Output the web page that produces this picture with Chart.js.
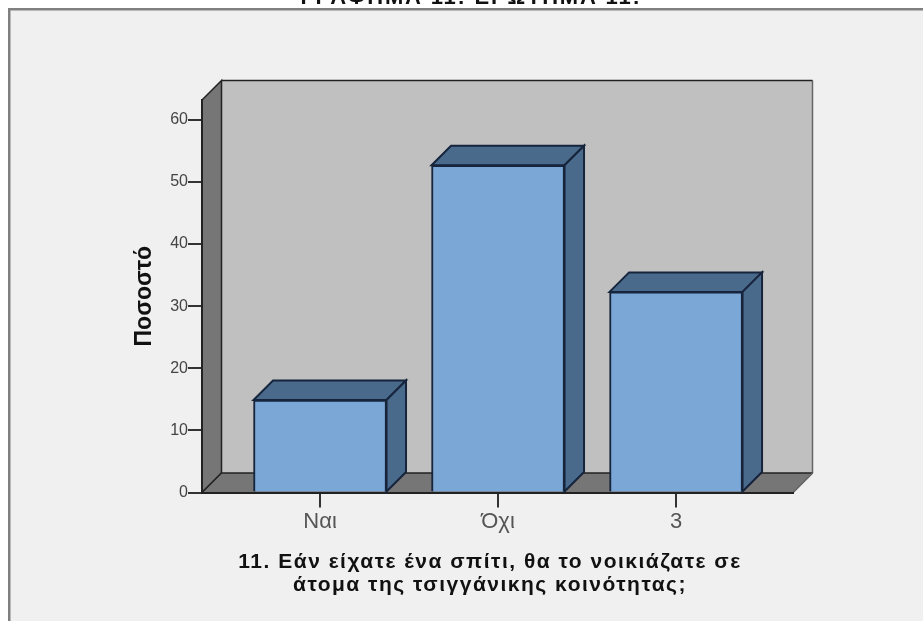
<!DOCTYPE html>
<html><head><meta charset="utf-8">
<style>html,body{margin:0;padding:0;background:#fff}canvas{display:block}</style>
<script src="https://cdn.jsdelivr.net/npm/chart.js@4"></script>
</head><body>
<canvas id="c" width="923" height="621"></canvas>
<script>
const chartTitle = 'ΓΡΑΦΗΜΑ 11: ΕΡΩΤΗΜΑ 11:';
const xTitleLines = ['11. Εάν είχατε ένα σπίτι, θα το νοικιάζατε σε', 'άτομα της τσιγγάνικης κοινότητας;'];
const yTitle = 'Ποσοστό';
const categories = ['Ναι', 'Όχι', '3'];
const percent = [14.9, 52.7, 32.3];
const yMax = 63.2;
const xMin = -0.663, xMax = 2.657;
const depth = 19.5;
const FONT = '"Liberation Sans", Arial, sans-serif';

function poly(ctx, pts, fill, stroke, lw) {
  ctx.beginPath();
  pts.forEach((p, i) => i ? ctx.lineTo(p[0], p[1]) : ctx.moveTo(p[0], p[1]));
  ctx.closePath();
  if (fill) { ctx.fillStyle = fill; ctx.fill(); }
  if (stroke) { ctx.strokeStyle = stroke; ctx.lineWidth = lw || 1.5; ctx.lineJoin = 'miter'; ctx.stroke(); }
}

const scene = {
  id: 'scene',
  beforeDraw(chart) {
    const ctx = chart.ctx, a = chart.chartArea;
    const L = a.left, R = a.right, T = a.top, B = a.bottom, d = depth;
    ctx.save();
    ctx.fillStyle = '#ffffff'; ctx.fillRect(0, 0, 923, 621);
    ctx.fillStyle = '#f0f0f0'; ctx.fillRect(9, 9, 914, 612);
    ctx.fillStyle = '#808080';
    ctx.fillRect(8, 8, 915, 2.5); ctx.fillRect(8, 8, 2.5, 613);
    ctx.fillStyle = '#111'; ctx.font = 'bold 22px ' + FONT; ctx.textAlign = 'center'; ctx.textBaseline = 'alphabetic';
    ctx.letterSpacing = '1.8px';
    ctx.fillText(chartTitle, 471, 4);
    ctx.letterSpacing = '0px';
    poly(ctx, [[L + d, T - d], [R + d, T - d], [R + d, B - d], [L + d, B - d]], '#c0c0c0');
    ctx.strokeStyle = '#666'; ctx.lineWidth = 1.5;
    ctx.beginPath(); ctx.moveTo(R + d, T - d); ctx.lineTo(R + d, B - d); ctx.lineTo(R, B); ctx.stroke();
    ctx.strokeStyle = '#222';
    ctx.beginPath(); ctx.moveTo(L + d, T - d); ctx.lineTo(R + d, T - d); ctx.stroke();
    poly(ctx, [[L, T], [L + d, T - d], [L + d, B - d], [L, B]], '#767676', '#222');
    poly(ctx, [[L, B], [L + d, B - d], [R + d, B - d], [R, B]], '#767676');
    ctx.strokeStyle = '#222';
    ctx.beginPath(); ctx.moveTo(L, B); ctx.lineTo(L + d, B - d); ctx.lineTo(R + d, B - d); ctx.stroke();
    ctx.strokeStyle = '#666';
    ctx.beginPath(); ctx.moveTo(R + d, B - d); ctx.lineTo(R, B); ctx.stroke();
    ctx.fillStyle = '#111'; ctx.font = 'bold 21px ' + FONT; ctx.textAlign = 'center';
    ctx.letterSpacing = '1.5px';
    ctx.fillText(xTitleLines[0], 490, 568);
    ctx.fillText(xTitleLines[1], 490, 591);
    ctx.letterSpacing = '0px';
    ctx.restore();
  },
  beforeDatasetsDraw(chart) {
    const ctx = chart.ctx, d = depth;
    ctx.save();
    chart.getDatasetMeta(0).data.forEach(el => {
      const p = el.getProps(['x', 'y', 'base', 'width'], true);
      const x1 = p.x - p.width / 2, x2 = p.x + p.width / 2;
      poly(ctx, [[x1, p.y], [x1 + d, p.y - d], [x2 + d, p.y - d], [x2, p.y]], '#4a6a8c', '#16243c', 2);
      poly(ctx, [[x2, p.y], [x2 + d, p.y - d], [x2 + d, p.base - d], [x2, p.base]], '#4a6a8c', '#16243c', 2);
    });
    ctx.restore();
  }
};

new Chart(document.getElementById('c'), {
  type: 'bar',
  data: {
    datasets: [{
      label: yTitle,
      data: percent.map((v, i) => ({ x: i, y: v })),
      backgroundColor: '#7ba7d7',
      borderColor: '#16243c',
      borderWidth: 2,
      barThickness: 133
    }]
  },
  plugins: [scene],
  options: {
    responsive: false,
    animation: false,
    events: [],
    layout: { padding: { left: 131, right: 130, top: 100, bottom: 0 } },
    plugins: { legend: { display: false }, title: { display: false }, tooltip: { enabled: false } },
    scales: {
      x: {
        type: 'linear', min: xMin, max: xMax, offset: false,
        afterBuildTicks(axis) { axis.ticks = categories.map((_, i) => ({ value: i })); },
        afterFit(axis) { axis.height = 128.5; },
        grid: { offset: false, drawOnChartArea: false, tickLength: 15, color: '#333', lineWidth: 2 },
        border: { color: '#222', width: 2 },
        ticks: {
          autoSkip: false, maxRotation: 0, minRotation: 0, padding: 1, color: '#555',
          font: { family: FONT, size: 22 },
          callback: v => categories[v]
        }
      },
      y: {
        min: 0, max: yMax,
        afterFit(axis) { axis.width = 71; },
        grid: { drawOnChartArea: false, tickLength: 14, color: '#333', lineWidth: 2 },
        border: { color: '#222', width: 2 },
        title: { display: true, text: yTitle, color: '#111', padding: { top: 0, bottom: 0 }, font: { family: FONT, size: 23, weight: 'bold' } },
        ticks: {
          stepSize: 10, includeBounds: false, padding: 0, color: '#444',
          font: { family: FONT, size: 16 }
        }
      }
    }
  }
});
</script>
</body></html>
